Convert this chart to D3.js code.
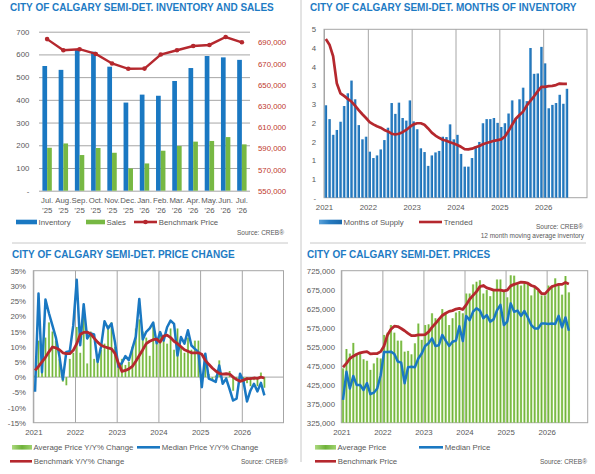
<!DOCTYPE html>
<html lang="en">
<head>
<meta charset="UTF-8">
<title>City of Calgary Semi-Det.</title>
<script src="https://d3js.org/d3.v7.min.js"></script>
<style>
  body{margin:0;background:#fff;}
  svg text{font-family:"Liberation Sans",Arial,sans-serif;}
  .tick text{fill:#595959;font-size:7.8px;}
  .title{fill:#1e7bc4;font-weight:bold;font-size:10px;}
  .leg{fill:#595959;font-size:7.8px;}
  .src{fill:#595959;font-size:6.5px;}
  .xl{fill:#595959;font-size:7.8px;}
</style>
</head>
<body>
<svg id="chart" width="595" height="474"></svg>
<script>
// ---- inventory and sales (Jul '25 - Jul '26)
const invMonths=['Jul.','Aug.','Sep.','Oct.','Nov.','Dec.','Jan.','Feb.','Mar.','Apr.','May.','Jun.','Jul.'];
const invYears=['’25','’25','’25','’25','’25','’25','’26','’26','’26','’26','’26','’26','’26'];
const inventory=[549,532,620,612,546,388,423,418,483,540,593,587,576];
const sales=[189,208,157,188,167,98,120,176,197,216,219,236,204];
const benchPrice13=[693000,682500,683500,679000,670000,665000,665200,678500,682500,686500,687500,695000,690000];
const invTicks=[0,100,200,300,400,500,600,700];
const priceTicksR=[550000,570000,590000,610000,630000,650000,670000,690000];

// ---- monthly series, Jan 2021 - Jul 2026
const yearLabels=['2021','2022','2023','2024','2025','2026'];
const monthsSupply=[2.47,2.1,1.68,1.81,2.03,2.45,2.79,3.13,2.63,1.94,1.56,1.63,
  1.23,1.06,1.13,1.29,1.54,1.87,2.53,2.24,2.54,2.13,2.06,2.6,
  2.04,1.83,1.32,1.22,0.85,1.13,1.21,1.25,1.63,1.62,1.96,1.56,
  1.68,1.17,0.83,0.83,1.06,1.37,1.49,1.99,2.1,2.1,2.13,2.0,
  1.89,1.99,2.25,2.6,2.13,2.63,2.94,2.58,4.0,3.31,3.32,4.03,
  3.59,2.39,2.48,2.53,2.75,2.51,2.91];
const trended=[4.24,4.09,3.78,3.06,2.79,2.72,2.64,2.57,2.46,2.34,2.23,2.13,
  2.02,1.96,1.91,1.87,1.81,1.77,1.71,1.69,1.71,1.75,1.81,1.89,
  1.96,1.99,1.99,1.95,1.85,1.74,1.66,1.6,1.55,1.52,1.48,1.45,
  1.41,1.36,1.3,1.29,1.31,1.35,1.38,1.43,1.46,1.49,1.52,1.54,
  1.56,1.63,1.78,1.95,2.11,2.21,2.3,2.46,2.59,2.71,2.84,2.96,
  2.96,2.98,2.99,3.01,3.05,3.04,3.04];
const supplyTicks=[0,0.5,1,1.5,2,2.5,3,3.5,4,4.5];

const avgYY=[0.5,12,5,13,18,15,12,6,-1.5,-2.7,6,8,
  16.5,8,22,4.5,15,6,6,9,11,17,18,10,
  3.5,6,4,5,10,16,19,15,13,7,18,11,
  15,12,11,16,9,16,10,8,13,9,12,12,
  -3,6,1,-1,0.5,5.5,0,-1,2,-4.5,-1,0,
  -2,-2,-3,-1,-3,1.5,-3.5];
const medYY=[-4.8,27.5,1.6,25.5,21,17,13,7,-0.8,8.3,8.5,17,
  32,10.5,24,12.7,14.4,14,5,10,18.4,16,17.6,11.5,
  3.4,4.7,6.9,5.6,9.4,13.3,25.7,12.4,14.9,16,17.9,11.1,
  14.8,12,16.4,18.6,17.5,7.1,13.2,11,15.4,10.4,9.3,8.3,
  -3.3,7.7,-0.5,-1,-1.6,3.8,-2.2,-0.5,-4,-7.7,-7.1,1.1,
  -1.5,-8,-4.4,-2.2,-4.7,-1.9,-6];
const benchYY=[2.2,3.5,5,6.5,8.3,9.9,9.6,9,8,7.7,7.7,8.8,
  11,14,14.7,14.8,14.2,12.8,11.5,10.5,10,9.6,9.3,7.8,
  4.5,1.9,2.2,2.7,3.5,5.2,7.1,9,11,11.8,12.3,12.5,
  11.5,13.5,13.8,13,11.8,11,10,9,8.5,8,8,8,
  7.5,5.5,4.2,3,2,1.2,1,1.1,1,0,-0.8,-1.4,
  -1,-0.5,-0.5,-0.3,-0.4,0,-0.3];
const yyTicks=[-15,-10,-5,0,5,10,15,20,25,30,35];

const avgPrice=[468,519,507,535,507,507,492,488,464,481,496,494,
  556,562,582,562,541,541,512,514,505,534,586,543,
  582,584,613,600,595,624,614,582,600,615,619,613,
  665,665,689,696,700,665,674,658,674,702,702,670,
  655,713,712,690,686,697,693,660,680,672,660,660,
  686,683,705,688,662,711,668].map(v=>v*1000);
const medPrice=[385,459,415,448,424,424,411,429,400,404,415,450,
  511,511,512,506,486,483,429,471,472,471,494,507,
  527,534,547,527,529,556,541,527,538,541,579,540,
  606,595,617,626,620,600,608,591,597,621,635,582,
  591,639,617,620,606,619,602,582,573,573,586,586,
  585,586,585,606,576,602,567].map(v=>v*1000);
const benchPrice=[471,481,494,500,505,509,511,512,506,507,507,512,
  527,556,571,579,578,573,567,560,554,554,556,556,
  557,564,576,586,597,607,613,618,620,624,626,623,
  635,650,660,670,683,686,680,677,674,674,674,672,
  674,685,689,692,695,694,692,686,683,676,665,664,
  674,683,686,689,689,694,690].map(v=>v*1000);
const priceTicks=[325000,375000,425000,475000,525000,575000,625000,675000,725000];

const C={blue:'#1a78c2',green:'#77b843',red:'#b5282e',grid:'#a6a6a6',text:'#595959'};
const svg=d3.select('#chart');
const defs=svg.append('defs');
function grad(id,stops){
  const g=defs.append('linearGradient').attr('id',id).attr('x1','0%').attr('x2','100%').attr('y1','0%').attr('y2','0%');
  stops.forEach(([o,c])=>g.append('stop').attr('offset',o).attr('stop-color',c));
}
grad('gBlue',[['0%','#5aa2da'],['45%','#277cc1'],['100%','#1a68ab']]);
grad('gGreen',[['0%','#acd97f'],['50%','#6fb23a'],['100%','#9fd26e']]);

function txt(x,y,s,cls,anchor){
  return svg.append('text').attr('x',x).attr('y',y).attr('class',cls).attr('text-anchor',anchor||'start').text(s);
}
function legRect(x,y,w,fill,label){
  svg.append('rect').attr('x',x).attr('y',y-2.3).attr('width',w).attr('height',4.6).attr('fill',fill);
  txt(x+w+1.5,y+2.8,label,'leg');
}
function legLine(x,y,w,col,label,dot){
  svg.append('line').attr('x1',x).attr('x2',x+w).attr('y1',y).attr('y2',y).attr('stroke',col).attr('stroke-width',2.6);
  if(dot) svg.append('circle').attr('cx',x+w/2).attr('cy',y).attr('r',2.3).attr('fill',col);
  txt(x+w+1.8,y+2.8,label,'leg');
}

// separators
svg.append('line').attr('x1',301).attr('x2',301).attr('y1',0).attr('y2',462).attr('stroke','#c8c8c8');
svg.append('line').attr('x1',12).attr('x2',288).attr('y1',243).attr('y2',243).attr('stroke','#c8c8c8');
svg.append('line').attr('x1',310).attr('x2',586).attr('y1',243).attr('y2',243).attr('stroke','#c8c8c8');

// ===== panel 1: inventory and sales
(function(){
  const b={l:39,r:250,t:31.7,b:190.7};
  txt(10,11,'CITY OF CALGARY SEMI-DET. INVENTORY AND SALES','title');
  const x=d3.scaleBand().domain(d3.range(invMonths.length)).range([b.l,b.r]).paddingInner(0.42).paddingOuter(0.21);
  const yL=d3.scaleLinear().domain([0,700]).range([b.b,b.t]);
  const yR=d3.scaleLinear().domain([550000,700000]).range([b.b,b.t]);
  svg.append('g').attr('transform',`translate(${b.l},0)`)
    .call(d3.axisLeft(yL).tickValues(invTicks).tickSize(-(b.r-b.l)).tickPadding(9.7).tickFormat(d=>d===0?'-':d))
    .call(g=>g.select('.domain').remove())
    .call(g=>g.selectAll('.tick line').attr('stroke',C.grid));
  svg.append('g').attr('transform',`translate(${b.r},0)`)
    .call(d3.axisRight(yR).tickValues(priceTicksR).tickSize(0).tickPadding(8).tickFormat(d3.format(',')))
    .call(g=>g.select('.domain').remove())
    .call(g=>g.selectAll('.tick text').style('fill','#c0392b'));
  const bw=x.bandwidth()/2;
  svg.append('g').selectAll('rect').data(inventory).join('rect')
    .attr('x',(d,i)=>x(i)).attr('width',bw).attr('y',d=>yL(d)).attr('height',d=>yL(0)-yL(d)).attr('fill',C.blue);
  svg.append('g').selectAll('rect').data(sales).join('rect')
    .attr('x',(d,i)=>x(i)+bw).attr('width',bw).attr('y',d=>yL(d)).attr('height',d=>yL(0)-yL(d)).attr('fill',C.green);
  const cx=i=>x(i)+x.bandwidth()/2;
  svg.append('path').datum(benchPrice13).attr('fill','none').attr('stroke',C.red).attr('stroke-width',2.4)
    .attr('d',d3.line().x((d,i)=>cx(i)).y(d=>yR(d)));
  svg.append('g').selectAll('circle').data(benchPrice13).join('circle')
    .attr('cx',(d,i)=>cx(i)).attr('cy',d=>yR(d)).attr('r',2.3).attr('fill',C.red);
  invMonths.forEach((m,i)=>{
    txt(cx(i),203,m,'xl','middle');
    txt(cx(i),212.5,invYears[i],'xl','middle');
  });
  legRect(16,222,21,C.blue,'Inventory');
  legRect(86,222,19,C.green,'Sales');
  legLine(134,222,23,C.red,'Benchmark Price',true);
  txt(284,235,'Source: CREB®','src','end');
})();

// ===== shared monthly panel
const monthSlots=d3.range(72);
function monthPanel(b,domain,ticks,fmt,pad,inner){
  const x=d3.scaleBand().domain(monthSlots).range([b.l,b.r]).paddingInner(inner).paddingOuter(inner/2);
  const xYear=d3.scaleLinear().domain([+yearLabels[0],+yearLabels[0]+6]).range([b.l,b.r]);
  const y=d3.scaleLinear().domain(domain).range([b.b,b.t]);
  svg.append('g').attr('transform',`translate(0,${b.b})`)
    .call(d3.axisBottom(xYear).tickValues(yearLabels.map(Number)).tickSize(-(b.b-b.t)).tickPadding(6.8).tickFormat(d3.format('d')))
    .call(g=>g.select('.domain').remove())
    .call(g=>g.selectAll('.tick line').attr('stroke',C.grid));
  svg.append('rect').attr('x',b.l).attr('y',b.t).attr('width',b.r-b.l).attr('height',b.b-b.t)
    .attr('fill','none').attr('stroke',C.grid);
  svg.append('g').attr('transform',`translate(${b.l},0)`)
    .call(d3.axisLeft(y).tickValues(ticks).tickSize(0).tickPadding(pad).tickFormat(fmt))
    .call(g=>g.select('.domain').remove());
  return {x,y,cx:i=>x(i)+x.bandwidth()/2};
}
function lineOf(p,data,col,w){
  svg.append('path').datum(data).attr('fill','none').attr('stroke',col).attr('stroke-width',w)
    .attr('stroke-linejoin','round').attr('d',d3.line().x((d,i)=>p.cx(i)).y(d=>p.y(d)));
}

// ===== panel 2: months of inventory
(function(){
  const b={l:324,r:587,t:29.3,b:197.7};
  txt(310,11,'CITY OF CALGARY SEMI-DET. MONTHS OF INVENTORY','title');
  const p=monthPanel(b,[0,4.5],supplyTicks,d=>d===0?'-':Math.round(d),8,0.3);
  svg.append('g').selectAll('rect').data(monthsSupply).join('rect')
    .attr('x',(d,i)=>p.x(i)).attr('width',p.x.bandwidth()).attr('y',d=>p.y(d)).attr('height',d=>p.y(0)-p.y(d))
    .attr('fill','url(#gBlue)');
  lineOf(p,trended,C.red,2.7);
  legRect(319,222,23,'url(#gBlue)','Months of Supply');
  legLine(419,222,23,C.red,'Trended');
  txt(583,228.5,'Source: CREB®','src','end');
  txt(584,237.5,'12 month moving average inventory','src','end');
})();

// ===== panel 3: price change
(function(){
  const b={l:33.3,r:283.5,t:270.7,b:422.7};
  txt(12,258,'CITY OF CALGARY SEMI-DET. PRICE CHANGE','title');
  const p=monthPanel(b,[-15,35],yyTicks,d=>d+'%',7.3,0.4);
  svg.append('line').attr('x1',b.l).attr('x2',b.r).attr('y1',p.y(0)).attr('y2',p.y(0)).attr('stroke',C.grid);
  svg.append('g').selectAll('rect').data(avgYY).join('rect')
    .attr('x',(d,i)=>p.x(i)).attr('width',p.x.bandwidth())
    .attr('y',d=>p.y(Math.max(d,0))).attr('height',d=>Math.abs(p.y(d)-p.y(0)))
    .attr('fill','url(#gGreen)');
  lineOf(p,medYY,C.blue,2.5);
  lineOf(p,benchYY,C.red,2.8);
  legRect(12,447.3,20,'url(#gGreen)','Average Price Y/Y% Change');
  legLine(137,447.3,23,C.blue,'Median Price Y/Y% Change');
  legLine(10,461.3,22,C.red,'Benchmark Y/Y% Change');
  txt(288,463.5,'Source: CREB®','src','end');
})();

// ===== panel 4: prices
(function(){
  const b={l:341.3,r:587.7,t:270.7,b:422.7};
  txt(307,258,'CITY OF CALGARY SEMI-DET. PRICES','title');
  const p=monthPanel(b,[325000,725000],priceTicks,d3.format(','),6.3,0.33);
  svg.append('g').selectAll('rect').data(avgPrice).join('rect')
    .attr('x',(d,i)=>p.x(i)).attr('width',p.x.bandwidth()).attr('y',d=>p.y(d)).attr('height',d=>p.y(325000)-p.y(d))
    .attr('fill','url(#gGreen)');
  lineOf(p,medPrice,C.blue,2.5);
  lineOf(p,benchPrice,C.red,2.8);
  legRect(315,447.3,21,'url(#gGreen)','Average Price');
  legLine(419,447.3,24,C.blue,'Median Price');
  legLine(315,461.3,21,C.red,'Benchmark Price');
  txt(587,463.5,'Source: CREB®','src','end');
})();
</script>
</body>
</html>
